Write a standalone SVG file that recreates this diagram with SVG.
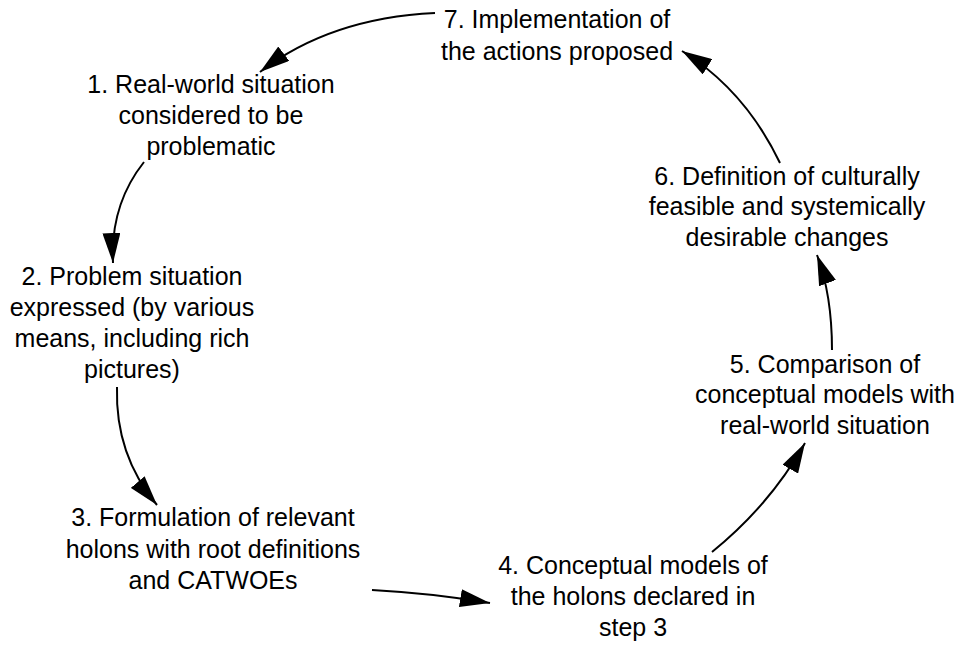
<svg xmlns="http://www.w3.org/2000/svg" width="963" height="646" viewBox="0 0 963 646">
<style>
text{font-family:"Liberation Sans",Arial,sans-serif;font-size:25px;fill:#000;text-anchor:middle}
.c{fill:none;stroke:#000;stroke-width:2}
</style>
<defs>
<marker id="ah" markerUnits="userSpaceOnUse" markerWidth="30" markerHeight="18" refX="30" refY="9" orient="auto">
<path d="M0,0 L30,9 L0,18 z" fill="#000"/>
</marker>
</defs>
<rect width="963" height="646" fill="#fff"/>
<g id="connectors">
<path class="c" d="M435,13 Q330,18 260,72" marker-end="url(#ah)"/>
<path class="c" d="M144,162 Q110,205 113,263" marker-end="url(#ah)"/>
<path class="c" d="M117,387 Q115,455 157,505" marker-end="url(#ah)"/>
<path class="c" d="M372,590 Q430,593 490,603" marker-end="url(#ah)"/>
<path class="c" d="M712,552 Q770,505 805,443" marker-end="url(#ah)"/>
<path class="c" d="M832,350 Q832,295 817,255" marker-end="url(#ah)"/>
<path class="c" d="M780,163 Q745,90 682,51" marker-end="url(#ah)"/>
</g>
<g id="node7"><text x="557" y="28">7. Implementation of</text><text x="557" y="60">the actions proposed</text></g>
<g id="node1"><text x="211" y="93">1. Real-world situation</text><text x="211" y="124">considered to be</text><text x="211" y="155">problematic</text></g>
<g id="node2"><text x="132" y="285">2. Problem situation</text><text x="132" y="316">expressed (by various</text><text x="132" y="347">means, including rich</text><text x="132" y="378">pictures)</text></g>
<g id="node3"><text x="213" y="526">3. Formulation of relevant</text><text x="213" y="558">holons with root definitions</text><text x="213" y="589">and CATWOEs</text></g>
<g id="node4"><text x="633" y="574">4. Conceptual models of</text><text x="633" y="605">the holons declared in</text><text x="633" y="636">step 3</text></g>
<g id="node5"><text x="825" y="373">5. Comparison of</text><text x="825" y="403">conceptual models with</text><text x="825" y="434">real-world situation</text></g>
<g id="node6"><text x="787" y="185">6. Definition of culturally</text><text x="787" y="215">feasible and systemically</text><text x="787" y="246">desirable changes</text></g>
</svg>
